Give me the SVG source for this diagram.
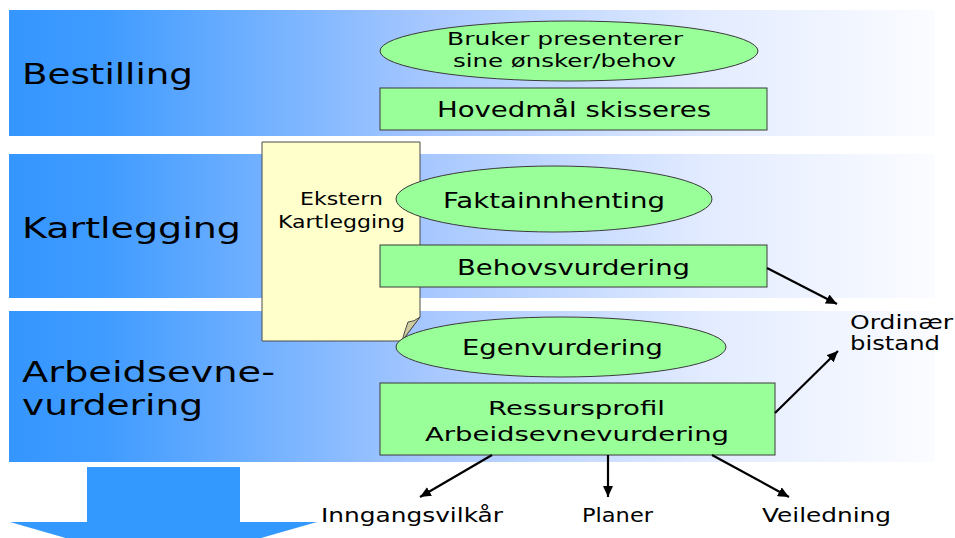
<svg xmlns="http://www.w3.org/2000/svg" width="955" height="538" viewBox="0 0 955 538">
<defs>
<linearGradient id="band" x1="0" y1="0" x2="1" y2="0">
<stop offset="0" stop-color="#3596ff"/>
<stop offset="0.1" stop-color="#3f9bff"/>
<stop offset="0.45" stop-color="#a6c7ff"/>
<stop offset="0.75" stop-color="#e2ebff"/>
<stop offset="1" stop-color="#fbfcff"/>
</linearGradient>
<marker id="ah" markerWidth="12" markerHeight="10" refX="11" refY="5" orient="auto" markerUnits="userSpaceOnUse">
<path d="M0,0 L11,5 L0,10 Z" fill="#000"/>
</marker>
<style>
text{font-family:"DejaVu Sans","Verdana","Liberation Sans",sans-serif;fill:#000}
.band{fill:url(#band)}
.node{fill:#99ff99;stroke:#3a3a3a;stroke-width:1}
.lbl{font-size:29px}
.c{stroke:#000;stroke-width:2.2;fill:none;marker-end:url(#ah)}
.out{font-size:19px}
</style>
</defs>
<g id="bands">
<rect class="band" x="9" y="10" width="926" height="126"/>
<rect class="band" x="9" y="154" width="926" height="144"/>
<rect class="band" x="9" y="311" width="926" height="151"/>
<text class="lbl" x="22" y="84" textLength="171" lengthAdjust="spacingAndGlyphs">Bestilling</text>
<text class="lbl" x="22" y="238" textLength="219" lengthAdjust="spacingAndGlyphs">Kartlegging</text>
<text class="lbl" x="22" y="382" textLength="253" lengthAdjust="spacingAndGlyphs">Arbeidsevne-</text>
<text class="lbl" x="22" y="415" textLength="181" lengthAdjust="spacingAndGlyphs">vurdering</text>
</g>
<g id="big-arrow">
<path d="M87,467 L240,467 L240,522 L317,522 L163,566 L10,522 L87,522 Z" fill="#3399ff"/>
</g>
<g id="ekstern">
<path d="M262,142 L420,142 L420,317 L402,341 L262,341 Z" fill="#ffffcc" stroke="#4a4a4a" stroke-width="1"/>
<path d="M420,317 L402,341 Q405,330 408,322 Q414,322 420,317 Z" fill="#cfcba0" stroke="#4a4a4a" stroke-width="1"/>
<text x="300" y="205" font-size="17" textLength="83" lengthAdjust="spacingAndGlyphs">Ekstern</text>
<text x="278" y="228" font-size="17" textLength="127" lengthAdjust="spacingAndGlyphs">Kartlegging</text>
</g>
<g id="bruker">
<ellipse class="node" cx="569" cy="51" rx="189" ry="30"/>
<text x="447" y="45" font-size="18" textLength="236" lengthAdjust="spacingAndGlyphs">Bruker presenterer</text>
<text x="453" y="67" font-size="18" textLength="223" lengthAdjust="spacingAndGlyphs">sine ønsker/behov</text>
</g>
<g id="hovedmal">
<rect class="node" x="380" y="88" width="387" height="42"/>
<text x="437" y="117" font-size="21" textLength="274" lengthAdjust="spacingAndGlyphs">Hovedmål skisseres</text>
</g>
<g id="faktainnhenting">
<ellipse class="node" cx="554" cy="199" rx="158" ry="33"/>
<text x="443" y="208" font-size="21" textLength="222" lengthAdjust="spacingAndGlyphs">Faktainnhenting</text>
</g>
<g id="behovsvurdering">
<rect class="node" x="380" y="245" width="387" height="42"/>
<text x="457" y="275" font-size="21" textLength="233" lengthAdjust="spacingAndGlyphs">Behovsvurdering</text>
</g>
<g id="egenvurdering">
<ellipse class="node" cx="561" cy="347" rx="165" ry="30"/>
<text x="462" y="355" font-size="21" textLength="201" lengthAdjust="spacingAndGlyphs">Egenvurdering</text>
</g>
<g id="ressursprofil">
<rect class="node" x="380" y="383" width="395" height="72"/>
<text x="488" y="415" font-size="20" textLength="177" lengthAdjust="spacingAndGlyphs">Ressursprofil</text>
<text x="425" y="441" font-size="20" textLength="304" lengthAdjust="spacingAndGlyphs">Arbeidsevnevurdering</text>
</g>
<g id="connectors">
<line class="c" x1="767" y1="268" x2="837" y2="304"/>
<line class="c" x1="775" y1="413" x2="838" y2="351"/>
<line class="c" x1="492" y1="455" x2="420" y2="497"/>
<line class="c" x1="608" y1="455" x2="608" y2="497"/>
<line class="c" x1="712" y1="455" x2="789" y2="497"/>
</g>
<g id="ordinaer">
<text class="out" x="850" y="329" textLength="103" lengthAdjust="spacingAndGlyphs">Ordinær</text>
<text class="out" x="850" y="350" textLength="90" lengthAdjust="spacingAndGlyphs">bistand</text>
</g>
<g id="inngangsvilkar">
<text class="out" x="321" y="522" textLength="182" lengthAdjust="spacingAndGlyphs">Inngangsvilkår</text>
</g>
<g id="planer">
<text class="out" x="582" y="522" textLength="71" lengthAdjust="spacingAndGlyphs">Planer</text>
</g>
<g id="veiledning">
<text class="out" x="762" y="522" textLength="129" lengthAdjust="spacingAndGlyphs">Veiledning</text>
</g>
</svg>
